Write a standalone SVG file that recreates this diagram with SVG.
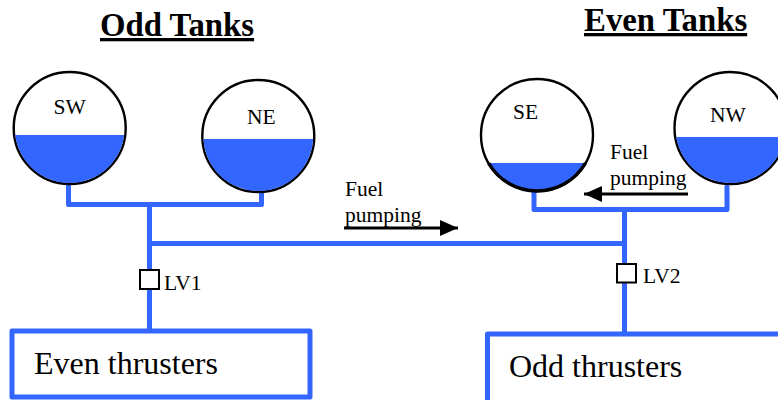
<svg xmlns="http://www.w3.org/2000/svg" width="778" height="400" viewBox="0 0 778 400">
<style>
text{font-family:"Liberation Serif","Times New Roman",serif;fill:#000}
.title{font-size:32.800px;font-weight:bold;text-decoration:underline}
.tank{fill:#fff;stroke:#000;stroke-width:2.4}
.liq{fill:#3366ff}
.pipe{fill:none;stroke:#3366ff;stroke-width:5;stroke-linejoin:round;stroke-linecap:round}
.box{fill:#fff;stroke:#3366ff;stroke-width:5;stroke-linejoin:round}
.valve{fill:#fff;stroke:#000;stroke-width:2}
.lbl{font-size:21.500px}
.big{font-size:32px}
.flow{fill:none;stroke:#000;stroke-width:3}
</style>
<defs>
<marker id="ah" markerUnits="userSpaceOnUse" markerWidth="18" markerHeight="16" refX="18" refY="8" orient="auto"><path d="M0 0L18 8L0 16Z" fill="#000"/></marker>
<clipPath id="c1"><rect x="0" y="135" width="778" height="60"/></clipPath>
<clipPath id="c2"><rect x="0" y="139" width="778" height="60"/></clipPath>
<clipPath id="c3"><rect x="0" y="163" width="778" height="60"/></clipPath>
<clipPath id="c4"><rect x="0" y="137" width="778" height="60"/></clipPath>
</defs>
<g id="connectors">
<path class="pipe" d="M68.500 184V204.500H261.500V192"/>
<path class="pipe" d="M149.500 204.500V331"/>
<path class="pipe" d="M149.500 243.500H624.500"/>
<path class="pipe" d="M534 192V209.500H727V187"/>
<path class="pipe" d="M624.500 209.500V334"/>
<path class="flow" d="M344 228H458" marker-end="url(#ah)"/>
<path class="flow" d="M688 194H584" marker-end="url(#ah)"/>
</g>
<text class="title" x="100" y="36">Odd Tanks</text>
<text class="title" x="584" y="31">Even Tanks</text>
<g id="tank-sw"><circle class="tank" cx="69.700" cy="128" r="56"/><circle class="liq" cx="69.700" cy="128" r="55" clip-path="url(#c1)"/><text class="lbl" x="53.500" y="114">SW</text></g>
<g id="tank-ne"><circle class="tank" cx="258.300" cy="136" r="56"/><circle class="liq" cx="258.300" cy="136" r="55" clip-path="url(#c2)"/><text class="lbl" x="247" y="124">NE</text></g>
<g id="tank-se"><circle class="tank" cx="537" cy="135" r="56"/><circle class="liq" cx="537" cy="135" r="55" clip-path="url(#c3)"/><path d="M488.500 163A56 56 0 0 0 585.500 163" fill="none" stroke="#000" stroke-width="3.500"/><text class="lbl" x="513" y="119">SE</text></g>
<g id="tank-nw"><circle class="tank" cx="730.500" cy="128" r="56"/><circle class="liq" cx="730.500" cy="128" r="55" clip-path="url(#c4)"/><text class="lbl" x="710" y="122">NW</text></g>
<text class="lbl" x="345" y="196">Fuel</text>
<text class="lbl" x="345" y="222">pumping</text>
<text class="lbl" x="610" y="159">Fuel</text>
<text class="lbl" x="610" y="185">pumping</text>
<g id="valve-lv1"><rect class="valve" x="140" y="270" width="19" height="19"/><text class="lbl" x="164" y="290">LV1</text></g>
<g id="valve-lv2"><rect class="valve" x="617" y="264" width="19" height="18.500"/><text class="lbl" x="643" y="283">LV2</text></g>
<g id="box-even"><rect class="box" x="12" y="331" width="298" height="66"/><text class="big" x="34" y="374">Even thrusters</text></g>
<g id="box-odd"><rect class="box" x="487.500" y="334" width="300" height="70"/><text class="big" x="509" y="377">Odd thrusters</text></g>
</svg>
